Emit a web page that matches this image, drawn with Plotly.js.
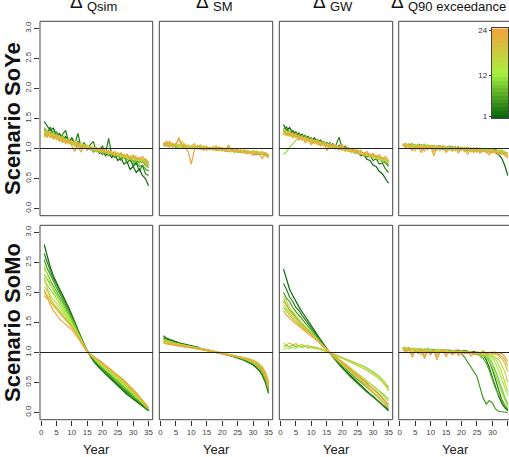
<!DOCTYPE html>
<html>
<head>
<meta charset="utf-8">
<script src="https://cdn.plot.ly/plotly-3.0.1.min.js"></script>
<style>html,body{margin:0;padding:0;background:#fff;}#chart{width:509px;height:457px;}</style>
</head>
<body>
<div id="chart"></div>
<script>
// ---------------- data ----------------
const years = [1,2,3,4,5,6,7,8,9,10,11,12,13,14,15,16,17,18,19,20,21,22,23,24,25,26,27,28,29,30,31,32,33,34,35];
const lineIds = [1,3,5,7,9,11,13,15,17,19,21,24];
const colorIndex = [1,2,3,4,5,6,7,8,9,10,11,12,13,14,15,16,17,18,19,20,21,22,23,24];
const colorbarTicks = [1,12,24];
const panelTitles = ['Qsim','SM','GW','Q90 exceedance'];
const rowLabels = ['Scenario SoYe','Scenario SoMo'];
const xTicks = [0,5,10,15,20,25,30,35];
const yTicks = [0,0.5,1,1.5,2,2.5,3];
const yTickText = ['0.0','0.5','1.0','1.5','2.0','2.5','3.0'];
const refLevel = 1;

const qsimSoYe = [
[1.45,1.38,1.30,1.34,1.22,1.25,1.15,1.20,1.10,1.18,1.05,1.12,1.02,1.08,0.98,1.04,0.95,1.00,0.92,0.98,0.88,0.93,0.85,0.90,0.80,0.84,0.74,0.78,0.65,0.70,0.60,0.66,0.55,0.50,0.38],
[1.32,1.25,1.36,1.20,1.28,1.14,1.24,1.30,1.10,1.18,1.08,1.25,1.02,1.10,1.00,1.06,1.12,0.95,0.98,1.04,0.92,1.17,0.90,0.86,0.92,0.80,0.88,0.76,0.82,0.70,0.76,0.62,0.72,0.58,0.55],
[1.22,1.30,1.18,1.26,1.15,1.20,1.10,1.18,1.08,1.12,1.04,1.10,1.00,1.06,0.98,1.02,0.94,1.00,0.95,0.90,0.96,0.88,0.92,0.85,0.88,0.82,0.86,0.78,0.80,0.74,0.78,0.70,0.72,0.66,0.62],
[1.35,1.28,1.24,1.30,1.20,1.16,1.22,1.12,1.15,1.08,1.12,1.04,1.08,1.02,1.05,0.98,1.02,0.96,0.98,0.94,0.96,0.90,0.93,0.88,0.90,0.84,0.87,0.82,0.84,0.78,0.80,0.76,0.78,0.72,0.68],
[1.26,1.20,1.28,1.18,1.22,1.14,1.18,1.10,1.14,1.06,1.10,1.02,1.06,1.00,1.03,0.98,1.00,0.95,0.97,0.92,0.95,0.90,0.92,0.88,0.90,0.85,0.87,0.83,0.85,0.80,0.82,0.78,0.80,0.75,0.72],
[1.30,1.24,1.20,1.26,1.16,1.20,1.12,1.16,1.08,1.12,1.05,1.09,1.02,1.06,0.99,1.03,0.97,1.00,0.94,0.98,0.92,0.95,0.90,0.93,0.87,0.90,0.85,0.88,0.82,0.86,0.80,0.83,0.78,0.80,0.75],
[1.18,1.25,1.22,1.16,1.20,1.12,1.17,1.10,1.14,1.07,1.10,1.04,1.07,1.01,1.04,0.99,1.01,0.96,0.99,0.94,0.96,0.92,0.94,0.89,0.91,0.87,0.89,0.84,0.86,0.82,0.84,0.79,0.82,0.77,0.74],
[1.28,1.22,1.26,1.19,1.23,1.15,1.19,1.12,1.15,1.09,1.12,1.05,1.09,1.03,1.06,1.00,1.03,0.98,1.00,0.95,0.98,0.93,0.95,0.90,0.93,0.88,0.90,0.85,0.88,0.83,0.85,0.80,0.83,0.78,0.76],
[1.24,1.30,1.20,1.24,1.17,1.21,1.13,1.16,1.10,1.13,1.06,1.10,1.03,1.07,1.00,1.04,0.98,1.01,0.95,0.99,0.93,0.96,0.91,0.94,0.88,0.92,0.86,0.89,0.84,0.87,0.82,0.85,0.80,0.82,0.78],
[1.20,1.26,1.18,1.22,1.15,1.19,1.11,1.15,1.08,1.12,1.05,1.08,1.02,1.05,0.99,1.02,0.96,1.00,0.94,0.97,0.92,0.95,0.90,0.92,0.88,0.90,0.86,0.88,0.83,0.86,0.81,0.84,0.79,0.82,0.76],
[1.32,1.22,1.27,1.18,1.24,1.14,1.20,1.10,1.16,1.06,1.12,1.03,0.94,1.05,1.00,1.03,0.97,1.01,0.95,0.98,0.93,0.96,0.90,0.94,0.88,0.91,0.86,0.89,0.83,0.87,0.82,0.85,0.79,0.83,0.74],
[1.25,1.19,1.28,1.16,1.22,1.12,1.18,1.08,1.14,1.05,0.95,1.10,1.02,1.06,0.98,1.04,0.96,1.02,0.94,1.00,0.92,0.97,0.90,0.95,0.87,0.93,0.85,0.91,0.83,0.89,0.86,0.81,0.87,0.79,0.70]
];

const smSoYe = [
[1.08,1.05,1.07,1.04,1.06,1.03,1.05,1.02,1.04,1.03,1.01,1.03,1.00,1.02,1.01,0.99,1.01,0.98,1.00,0.97,0.99,0.96,0.98,0.97,0.95,0.97,0.94,0.96,0.93,0.95,0.90,0.93,0.91,0.89,0.86],
[1.04,1.07,1.03,1.06,1.02,1.05,1.03,1.01,1.04,1.00,1.03,1.01,0.99,1.02,1.00,0.98,1.00,0.97,0.99,0.98,0.96,0.98,0.95,0.97,0.96,0.94,0.96,0.93,0.95,0.92,0.94,0.91,0.93,0.90,0.88],
[1.06,1.04,1.08,1.03,1.05,1.02,1.06,1.03,1.01,1.04,1.02,1.00,1.03,1.01,0.99,1.01,0.98,1.00,0.97,0.99,0.97,0.95,0.98,0.96,0.94,0.96,0.93,0.95,0.92,0.94,0.92,0.90,0.93,0.91,0.89],
[1.05,1.08,1.04,1.06,1.03,1.05,1.02,1.04,1.03,1.01,1.03,1.00,1.02,1.01,0.99,1.01,0.98,1.00,0.99,0.97,0.99,0.96,0.98,0.97,0.95,0.97,0.94,0.96,0.95,0.93,0.95,0.92,0.94,0.91,0.90],
[1.07,1.04,1.06,1.05,1.03,1.06,1.02,1.04,1.01,1.03,1.02,1.00,1.02,0.99,1.01,1.00,0.98,1.00,0.97,0.99,0.98,0.96,0.98,0.95,0.97,0.96,0.94,0.96,0.93,0.95,0.92,0.94,0.91,0.93,0.88],
[1.09,1.06,1.04,1.07,1.05,1.03,1.05,1.02,1.04,1.01,1.03,1.01,0.99,1.02,1.00,1.01,0.98,1.00,0.98,0.96,0.99,0.97,0.95,0.98,0.96,0.94,0.96,0.93,0.95,0.94,0.91,0.94,0.92,0.90,0.87],
[1.04,1.06,1.09,1.03,1.06,1.04,1.02,1.05,1.02,1.04,1.00,1.03,1.01,0.99,1.02,0.99,1.01,0.98,1.00,0.97,0.99,0.97,0.95,0.98,0.95,0.97,0.93,0.96,0.94,0.92,0.95,0.91,0.93,0.92,0.89],
[1.06,1.09,1.05,1.03,1.07,1.04,1.06,1.01,1.04,1.02,1.05,1.00,1.03,1.00,0.98,1.02,1.00,0.97,1.01,0.98,0.96,0.99,0.97,0.95,0.98,0.94,0.97,0.95,0.92,0.96,0.93,0.91,0.94,0.90,0.88],
[1.08,1.05,1.10,1.04,1.07,1.02,1.05,1.08,1.01,1.04,1.00,1.03,1.06,0.99,1.02,1.00,0.97,1.03,0.99,0.96,1.01,0.98,0.95,0.99,0.97,0.94,0.98,0.95,0.93,0.97,0.92,0.95,0.90,0.93,0.86],
[1.05,1.10,1.06,1.02,1.08,1.05,1.12,1.03,1.06,1.00,1.04,1.02,0.98,1.05,1.01,0.98,1.03,0.99,0.97,1.02,0.98,1.04,0.96,0.99,0.95,0.98,0.93,0.97,0.94,0.91,0.96,0.92,0.94,0.89,0.84],
[1.07,1.12,1.03,1.09,1.05,1.19,1.02,1.06,1.00,1.04,1.08,0.99,1.03,1.01,0.97,1.02,0.99,1.05,0.96,1.00,0.97,0.95,0.99,0.93,0.97,0.95,0.92,0.96,0.91,0.94,0.92,0.89,0.95,0.88,0.87],
[1.10,1.05,1.12,1.04,1.08,1.15,1.06,1.02,0.95,0.74,0.98,1.05,1.02,0.97,1.04,0.99,1.02,0.96,1.03,0.98,0.95,1.06,0.97,0.94,0.99,0.93,0.96,0.91,0.95,0.88,0.93,0.90,0.83,0.94,0.86]
];

const gwSoYe = [
[1.40,1.30,1.35,1.25,1.28,1.20,1.24,1.16,1.20,1.12,1.18,1.10,1.14,1.06,1.10,1.02,1.08,1.00,1.05,0.98,1.02,0.95,0.98,0.92,0.95,0.88,0.90,0.82,0.80,0.72,0.70,0.62,0.58,0.50,0.42],
[1.32,1.36,1.24,1.30,1.22,1.26,1.16,1.22,1.14,1.18,1.10,1.15,1.08,1.12,1.04,1.10,1.02,1.06,1.19,1.00,1.04,0.96,1.00,0.94,0.97,0.90,0.93,0.86,0.88,0.80,0.83,0.74,0.76,0.66,0.60],
[1.25,1.30,1.22,1.27,1.19,1.24,1.15,1.20,1.13,1.16,1.10,1.13,1.07,1.10,1.04,1.07,1.01,1.05,0.99,1.02,0.97,1.00,0.95,0.97,0.92,0.94,0.89,0.91,0.86,0.88,0.82,0.84,0.78,0.76,0.70],
[1.30,1.26,1.28,1.22,1.25,1.18,1.21,1.15,1.18,1.12,1.15,1.09,1.12,1.06,1.09,1.03,1.06,1.01,1.04,0.99,1.01,0.96,0.99,0.94,0.96,0.91,0.93,0.88,0.90,0.85,0.86,0.81,0.82,0.77,0.73],
[1.22,1.28,1.24,1.20,1.23,1.17,1.20,1.14,1.17,1.11,1.14,1.08,1.11,1.06,1.08,1.03,1.05,1.00,1.03,0.98,1.00,0.96,0.98,0.93,0.95,0.91,0.92,0.88,0.89,0.85,0.86,0.82,0.82,0.78,0.74],
[0.90,0.95,1.02,1.08,1.14,1.18,1.16,1.19,1.13,1.16,1.11,1.14,1.08,1.11,1.05,1.08,1.03,1.05,1.00,1.03,0.98,1.00,0.96,0.98,0.94,0.95,0.91,0.92,0.88,0.89,0.85,0.86,0.82,0.80,0.76],
[1.28,1.22,1.26,1.20,1.23,1.16,1.20,1.13,1.16,1.10,1.13,1.07,1.10,1.05,1.07,1.02,1.05,1.00,1.02,0.98,1.00,0.95,0.97,0.93,0.95,0.90,0.92,0.88,0.89,0.85,0.86,0.82,0.83,0.79,0.76],
[1.24,1.29,1.21,1.25,1.18,1.22,1.14,1.18,1.12,1.15,1.09,1.12,1.06,1.09,1.03,1.06,1.01,1.04,0.99,1.01,0.97,0.99,0.94,0.96,0.92,0.93,0.89,0.90,0.86,0.87,0.83,0.84,0.80,0.81,0.77],
[1.34,1.25,1.29,1.21,1.24,1.17,1.21,1.14,1.17,1.11,1.14,1.08,1.11,1.05,1.08,1.02,1.06,1.00,1.03,0.98,1.01,0.96,0.98,0.94,0.96,0.91,0.93,0.88,0.91,0.86,0.88,0.84,0.85,0.81,0.78],
[1.26,1.21,1.27,1.19,1.23,1.15,1.19,1.12,1.16,1.09,1.13,1.06,1.10,1.04,1.07,1.01,1.04,0.99,1.02,0.97,1.00,0.95,0.97,0.93,0.95,0.90,0.93,0.88,0.90,0.86,0.88,0.83,0.85,0.80,0.75],
[1.29,1.24,1.20,1.26,1.18,1.22,1.14,1.19,1.11,1.16,1.08,1.13,1.05,1.10,1.03,1.07,1.00,1.05,0.97,1.03,0.95,1.00,0.93,0.98,0.91,0.95,0.89,0.92,0.87,0.90,0.85,0.87,0.82,0.84,0.79],
[1.31,1.23,1.27,1.18,1.25,1.14,1.21,1.10,1.17,1.06,1.14,1.10,1.04,1.12,0.96,1.08,1.02,1.05,0.99,1.07,0.97,1.02,0.95,0.99,0.92,0.97,0.90,0.95,0.88,0.92,0.86,0.90,0.83,0.87,0.80]
];

const q90SoYe = [
[1.05,1.08,1.03,1.06,1.02,1.07,1.04,1.01,1.05,1.03,1.00,1.04,1.02,0.98,1.03,1.01,0.99,1.02,0.97,1.01,0.99,0.96,1.00,0.98,0.95,0.99,0.97,0.94,0.98,0.95,0.92,0.90,0.84,0.72,0.55],
[1.07,1.04,1.06,1.02,1.05,1.03,1.06,1.02,1.04,1.01,1.05,1.00,1.03,1.01,0.99,1.04,1.00,0.98,1.02,1.00,0.97,1.01,0.99,0.96,1.00,0.98,0.95,0.99,0.97,0.94,0.98,0.95,0.96,0.93,0.92],
[1.04,1.07,1.05,1.08,1.03,1.05,1.02,1.06,1.03,1.04,1.01,1.03,1.05,1.00,1.02,1.01,1.03,0.99,1.01,1.00,0.98,1.02,0.97,0.99,1.01,0.96,0.98,1.00,0.95,0.97,0.99,0.94,0.96,0.92,0.90],
[1.06,1.03,1.08,1.04,1.06,1.02,1.04,1.07,1.01,1.03,1.05,1.02,1.00,1.04,1.01,0.98,1.02,1.00,1.03,0.98,1.00,0.97,1.01,0.99,0.96,1.00,0.98,0.95,0.99,0.96,0.94,0.97,0.95,0.93,0.88],
[1.08,1.05,1.03,1.07,1.04,1.06,1.01,1.05,1.03,1.00,1.04,1.02,1.03,0.99,1.02,1.00,0.97,1.01,0.99,1.02,0.96,1.00,0.98,1.01,0.97,0.95,0.99,0.97,0.94,0.98,0.96,0.93,0.97,0.94,0.91],
[1.05,1.06,1.04,1.05,1.07,1.03,1.05,1.02,1.06,1.04,1.01,1.03,1.00,1.02,1.04,0.99,1.01,0.98,1.00,0.97,1.01,0.99,0.96,1.00,0.98,0.97,0.95,0.99,0.96,0.94,0.97,0.95,0.92,0.95,0.90],
[1.07,1.04,1.07,1.02,1.05,1.04,1.00,1.06,1.02,1.05,1.03,0.98,1.04,1.01,1.00,1.03,0.97,1.02,0.99,1.00,0.96,1.02,0.98,0.95,1.00,0.97,0.99,0.94,0.98,0.96,0.93,0.97,0.94,0.91,0.89],
[1.04,1.08,1.02,1.06,1.03,0.99,1.05,1.03,1.00,1.04,0.97,1.03,1.01,1.05,0.98,1.02,1.00,0.96,1.01,0.99,1.03,0.97,1.00,0.98,0.94,0.99,0.97,1.00,0.95,0.98,0.96,0.92,0.96,0.93,0.90],
[1.06,1.02,1.07,1.03,0.96,1.05,1.02,1.06,0.98,1.03,1.01,1.04,0.96,1.02,1.00,1.03,0.95,1.01,0.98,1.02,0.96,1.00,0.97,1.01,0.95,0.98,1.00,0.94,0.97,0.99,0.93,0.96,0.94,0.90,0.88],
[1.05,1.07,1.01,1.05,1.03,1.07,0.97,1.04,1.01,1.05,0.95,1.02,1.04,0.99,1.03,0.97,1.01,1.04,0.96,1.00,0.98,1.02,0.94,0.99,0.97,1.01,0.95,0.98,0.93,0.97,0.95,0.91,0.95,0.92,0.87],
[1.08,1.03,1.06,0.98,1.04,1.01,1.06,0.95,1.03,1.00,1.05,0.97,1.02,1.04,0.93,1.01,0.99,1.03,0.97,1.00,0.95,1.02,0.98,0.93,1.00,0.97,0.99,0.94,0.97,0.92,0.96,0.94,0.90,0.93,0.86],
[1.06,1.01,1.07,0.96,1.04,1.02,0.93,1.05,1.00,1.03,0.88,1.02,0.99,1.04,0.95,1.01,0.97,1.03,0.92,1.00,0.98,0.90,1.01,0.96,0.99,0.92,0.98,0.95,0.89,0.97,0.94,0.91,0.95,0.88,0.84]
];

const qsimSoMo = [
[2.80,2.60,2.42,2.28,2.16,2.06,1.96,1.86,1.75,1.63,1.50,1.38,1.25,1.13,1.02,0.93,0.86,0.80,0.74,0.69,0.64,0.59,0.54,0.49,0.44,0.39,0.34,0.30,0.26,0.22,0.18,0.14,0.10,0.06,0.03],
[2.65,2.50,2.36,2.24,2.13,2.03,1.94,1.84,1.73,1.61,1.49,1.37,1.25,1.14,1.03,0.95,0.88,0.82,0.76,0.71,0.66,0.61,0.56,0.51,0.46,0.41,0.37,0.33,0.28,0.24,0.20,0.16,0.12,0.08,0.04],
[2.55,2.40,2.30,2.18,2.08,1.99,1.90,1.80,1.70,1.59,1.47,1.36,1.24,1.13,1.03,0.96,0.89,0.83,0.78,0.73,0.68,0.63,0.58,0.53,0.48,0.44,0.39,0.35,0.30,0.26,0.22,0.18,0.14,0.10,0.05],
[2.40,2.32,2.20,2.12,2.02,1.93,1.85,1.76,1.66,1.56,1.45,1.34,1.23,1.12,1.02,0.96,0.90,0.84,0.79,0.74,0.69,0.65,0.60,0.55,0.51,0.46,0.42,0.37,0.33,0.28,0.24,0.19,0.15,0.10,0.05],
[2.30,2.22,2.12,2.04,1.96,1.88,1.80,1.72,1.63,1.54,1.44,1.33,1.22,1.12,1.02,0.96,0.90,0.85,0.80,0.75,0.71,0.66,0.62,0.57,0.53,0.48,0.44,0.39,0.35,0.30,0.25,0.20,0.16,0.11,0.06],
[2.20,2.12,2.05,1.98,1.90,1.83,1.76,1.68,1.60,1.51,1.42,1.32,1.22,1.11,1.01,0.96,0.91,0.86,0.81,0.76,0.72,0.68,0.63,0.59,0.54,0.50,0.45,0.40,0.36,0.31,0.26,0.21,0.16,0.11,0.06],
[2.45,2.30,2.15,2.02,1.90,1.80,1.72,1.64,1.56,1.48,1.40,1.30,1.21,1.11,1.01,0.96,0.91,0.86,0.82,0.77,0.73,0.69,0.64,0.60,0.56,0.51,0.47,0.42,0.37,0.32,0.27,0.22,0.17,0.12,0.07],
[2.10,2.02,1.95,1.88,1.82,1.75,1.69,1.62,1.55,1.47,1.39,1.30,1.20,1.10,1.01,0.96,0.92,0.87,0.83,0.79,0.74,0.70,0.66,0.62,0.57,0.53,0.48,0.43,0.38,0.33,0.28,0.23,0.18,0.13,0.07],
[2.00,1.95,1.88,1.82,1.76,1.70,1.64,1.58,1.52,1.45,1.37,1.29,1.20,1.10,1.01,0.97,0.92,0.88,0.84,0.80,0.76,0.72,0.68,0.63,0.59,0.54,0.50,0.45,0.40,0.35,0.29,0.24,0.18,0.13,0.07],
[2.25,2.05,1.90,1.80,1.72,1.66,1.60,1.55,1.50,1.43,1.36,1.28,1.19,1.10,1.01,0.97,0.93,0.89,0.85,0.81,0.77,0.73,0.69,0.65,0.60,0.56,0.51,0.46,0.41,0.36,0.30,0.25,0.19,0.13,0.07],
[1.95,1.90,1.84,1.78,1.72,1.66,1.60,1.55,1.49,1.43,1.36,1.28,1.19,1.10,1.01,0.98,0.94,0.90,0.86,0.82,0.78,0.74,0.70,0.66,0.62,0.57,0.52,0.47,0.42,0.37,0.31,0.25,0.19,0.13,0.08],
[2.05,1.92,1.80,1.70,1.62,1.56,1.51,1.47,1.43,1.38,1.32,1.25,1.17,1.09,1.01,0.97,0.94,0.90,0.87,0.83,0.79,0.75,0.71,0.67,0.63,0.58,0.54,0.49,0.44,0.38,0.33,0.27,0.21,0.14,0.08]
];

const smSoMo = [
[1.25,1.22,1.21,1.19,1.18,1.16,1.15,1.14,1.12,1.11,1.10,1.09,1.07,1.06,1.05,1.04,1.03,1.01,1.00,0.99,0.97,0.96,0.95,0.93,0.92,0.90,0.88,0.86,0.83,0.80,0.76,0.70,0.62,0.50,0.32],
[1.28,1.24,1.22,1.20,1.17,1.16,1.14,1.13,1.11,1.10,1.09,1.08,1.06,1.05,1.04,1.03,1.02,1.00,0.99,0.98,0.96,0.95,0.94,0.92,0.91,0.89,0.87,0.85,0.82,0.79,0.75,0.70,0.63,0.52,0.36],
[1.22,1.20,1.19,1.17,1.16,1.15,1.13,1.12,1.11,1.10,1.09,1.07,1.06,1.05,1.04,1.03,1.02,1.01,1.00,0.99,0.98,0.97,0.95,0.94,0.93,0.91,0.90,0.88,0.86,0.83,0.80,0.75,0.68,0.57,0.40],
[1.20,1.19,1.17,1.16,1.15,1.14,1.12,1.11,1.10,1.09,1.08,1.07,1.06,1.05,1.04,1.03,1.02,1.01,1.00,0.99,0.98,0.97,0.96,0.95,0.94,0.92,0.91,0.89,0.87,0.85,0.82,0.78,0.72,0.62,0.45],
[1.23,1.21,1.18,1.17,1.15,1.13,1.12,1.11,1.10,1.08,1.07,1.06,1.05,1.04,1.03,1.02,1.01,1.00,0.99,0.98,0.97,0.96,0.95,0.94,0.92,0.91,0.89,0.87,0.85,0.82,0.79,0.74,0.67,0.56,0.38],
[1.18,1.17,1.16,1.15,1.14,1.13,1.12,1.11,1.10,1.09,1.08,1.07,1.06,1.05,1.04,1.03,1.02,1.01,1.00,0.99,0.98,0.97,0.96,0.95,0.94,0.93,0.91,0.90,0.88,0.86,0.83,0.79,0.73,0.64,0.48],
[1.21,1.19,1.18,1.16,1.15,1.14,1.13,1.11,1.10,1.09,1.08,1.07,1.06,1.05,1.04,1.03,1.02,1.01,1.00,0.99,0.98,0.97,0.96,0.94,0.93,0.92,0.90,0.88,0.86,0.84,0.81,0.77,0.71,0.61,0.44],
[1.17,1.16,1.15,1.14,1.13,1.12,1.11,1.10,1.09,1.08,1.07,1.06,1.05,1.04,1.03,1.02,1.02,1.01,1.00,0.99,0.98,0.97,0.96,0.95,0.94,0.93,0.92,0.90,0.89,0.87,0.84,0.80,0.75,0.66,0.50],
[1.19,1.18,1.16,1.15,1.14,1.13,1.12,1.11,1.10,1.09,1.08,1.07,1.06,1.05,1.04,1.03,1.02,1.01,1.00,0.99,0.98,0.97,0.96,0.95,0.94,0.92,0.91,0.89,0.87,0.85,0.82,0.78,0.72,0.63,0.46],
[1.16,1.15,1.14,1.13,1.13,1.12,1.11,1.10,1.09,1.08,1.07,1.06,1.05,1.05,1.04,1.03,1.02,1.01,1.00,0.99,0.98,0.97,0.96,0.95,0.94,0.93,0.92,0.91,0.89,0.87,0.85,0.81,0.76,0.68,0.53],
[1.20,1.18,1.17,1.15,1.14,1.13,1.12,1.11,1.10,1.09,1.08,1.07,1.06,1.05,1.04,1.03,1.02,1.01,1.00,0.99,0.98,0.97,0.96,0.95,0.93,0.92,0.90,0.89,0.87,0.84,0.81,0.77,0.71,0.60,0.42],
[1.15,1.14,1.13,1.13,1.12,1.11,1.10,1.09,1.09,1.08,1.07,1.06,1.05,1.04,1.04,1.03,1.02,1.01,1.00,0.99,0.98,0.97,0.96,0.95,0.94,0.93,0.92,0.90,0.88,0.86,0.83,0.79,0.73,0.64,0.47]
];

const gwSoMo = [
[2.39,2.20,2.05,1.95,1.85,1.76,1.68,1.60,1.52,1.45,1.37,1.30,1.22,1.14,1.06,0.99,0.93,0.88,0.82,0.76,0.70,0.65,0.60,0.55,0.50,0.45,0.40,0.35,0.31,0.27,0.22,0.18,0.13,0.08,0.03],
[2.15,2.05,1.92,1.85,1.75,1.70,1.62,1.55,1.48,1.42,1.35,1.28,1.20,1.12,1.05,0.98,0.92,0.86,0.80,0.74,0.68,0.63,0.58,0.53,0.48,0.43,0.38,0.34,0.30,0.26,0.22,0.17,0.13,0.09,0.05],
[2.00,1.90,1.85,1.75,1.68,1.62,1.55,1.50,1.44,1.38,1.31,1.25,1.18,1.11,1.04,0.98,0.93,0.88,0.83,0.78,0.73,0.68,0.64,0.59,0.55,0.50,0.46,0.42,0.37,0.33,0.28,0.24,0.19,0.14,0.08],
[1.85,1.80,1.70,1.66,1.58,1.54,1.48,1.43,1.38,1.33,1.28,1.22,1.16,1.10,1.04,0.99,0.94,0.90,0.86,0.82,0.78,0.74,0.70,0.66,0.62,0.58,0.53,0.49,0.44,0.40,0.35,0.30,0.25,0.19,0.13],
[1.10,1.12,1.09,1.13,1.10,1.12,1.09,1.11,1.08,1.10,1.07,1.08,1.05,1.04,1.02,1.00,0.98,0.96,0.94,0.92,0.90,0.88,0.86,0.84,0.82,0.80,0.77,0.74,0.71,0.68,0.64,0.60,0.55,0.49,0.42],
[1.75,1.68,1.62,1.56,1.51,1.46,1.42,1.38,1.34,1.30,1.25,1.20,1.15,1.10,1.05,1.01,0.97,0.93,0.89,0.85,0.81,0.77,0.73,0.69,0.65,0.61,0.57,0.53,0.49,0.45,0.41,0.37,0.33,0.28,0.22],
[1.05,1.08,1.06,1.09,1.07,1.10,1.08,1.10,1.07,1.09,1.06,1.07,1.05,1.03,1.01,0.99,0.97,0.95,0.93,0.91,0.89,0.87,0.85,0.83,0.81,0.79,0.76,0.73,0.70,0.67,0.63,0.59,0.54,0.48,0.38],
[1.95,1.85,1.75,1.68,1.61,1.55,1.49,1.44,1.39,1.34,1.28,1.22,1.16,1.10,1.04,0.99,0.94,0.89,0.84,0.80,0.75,0.71,0.66,0.62,0.57,0.53,0.48,0.44,0.39,0.34,0.29,0.24,0.19,0.14,0.08],
[1.80,1.72,1.65,1.58,1.52,1.47,1.42,1.38,1.34,1.29,1.24,1.19,1.14,1.09,1.04,1.00,0.96,0.92,0.88,0.84,0.80,0.77,0.73,0.69,0.65,0.61,0.57,0.53,0.48,0.44,0.40,0.35,0.30,0.25,0.19],
[1.15,1.13,1.16,1.12,1.15,1.11,1.14,1.10,1.12,1.08,1.10,1.06,1.07,1.04,1.02,1.00,0.98,0.96,0.93,0.91,0.88,0.86,0.83,0.81,0.78,0.76,0.73,0.70,0.67,0.64,0.60,0.56,0.51,0.45,0.36],
[1.90,1.78,1.70,1.62,1.56,1.50,1.45,1.40,1.36,1.31,1.26,1.21,1.15,1.09,1.04,0.99,0.95,0.90,0.86,0.81,0.77,0.72,0.68,0.63,0.59,0.54,0.50,0.45,0.40,0.35,0.30,0.25,0.20,0.14,0.08],
[1.70,1.62,1.58,1.52,1.48,1.44,1.40,1.36,1.32,1.28,1.24,1.19,1.14,1.09,1.04,1.00,0.96,0.92,0.87,0.83,0.79,0.75,0.70,0.66,0.62,0.57,0.53,0.48,0.44,0.39,0.34,0.29,0.24,0.18,0.12]
];

const q90SoMo = [
[1.06,1.08,1.05,1.07,1.04,1.06,1.05,1.03,1.06,1.04,1.05,1.02,1.04,1.05,1.03,1.04,1.02,1.03,1.04,1.01,1.03,1.02,1.00,1.02,0.99,0.98,0.95,0.88,0.75,0.58,0.42,0.28,0.16,0.08,0.03],
[1.08,1.05,1.07,1.04,1.06,1.03,1.05,1.04,1.02,1.05,1.03,1.04,1.01,1.03,1.04,1.02,1.03,1.00,1.02,1.03,1.01,1.02,1.00,0.99,1.00,0.97,0.96,0.93,0.85,0.72,0.55,0.38,0.22,0.12,0.05],
[1.07,1.05,1.08,1.04,1.06,1.05,1.03,1.06,1.04,1.02,1.05,1.03,1.04,1.02,1.03,1.01,1.02,1.00,1.01,0.98,0.92,0.84,0.76,0.68,0.60,0.42,0.24,0.14,0.20,0.16,0.06,0.02,0.01,0.01,0.00],
[1.05,1.07,1.04,1.06,1.05,1.03,1.06,1.04,1.02,1.05,1.03,1.01,1.04,1.02,1.03,1.01,1.02,1.03,1.00,1.02,1.01,0.99,1.00,0.98,0.97,0.95,0.90,0.82,0.70,0.55,0.40,0.30,0.20,0.12,0.06],
[1.09,1.06,1.04,1.07,1.05,1.03,1.05,1.02,1.04,1.03,1.01,1.04,1.02,1.03,1.00,1.02,1.01,0.99,1.02,1.00,1.01,0.99,1.00,0.98,0.99,0.97,0.96,0.94,0.90,0.82,0.70,0.55,0.40,0.26,0.14],
[1.06,1.04,1.07,1.05,1.03,1.06,1.04,1.02,1.05,1.03,1.04,1.01,1.03,1.02,1.04,1.00,1.02,1.01,0.99,1.01,1.00,1.02,0.99,1.00,0.98,0.97,0.95,0.92,0.86,0.76,0.62,0.48,0.35,0.22,0.10],
[1.07,1.09,1.05,1.06,1.04,1.07,1.03,1.05,1.02,1.04,1.03,1.05,1.01,1.03,1.02,1.00,1.03,1.01,1.02,0.99,1.01,1.00,1.02,0.99,1.00,0.98,0.97,0.96,0.94,0.90,0.82,0.70,0.56,0.42,0.28],
[1.05,1.08,1.06,1.03,1.07,1.04,1.06,1.02,1.05,1.03,1.01,1.04,1.02,1.05,1.01,1.03,1.00,1.02,1.01,1.03,0.99,1.01,1.00,0.98,1.01,0.99,0.98,0.97,0.95,0.93,0.88,0.80,0.68,0.52,0.35],
[1.08,1.04,1.06,1.05,1.02,1.06,1.03,1.05,1.01,1.04,1.02,1.03,1.05,1.00,1.03,1.02,1.01,1.03,0.99,1.02,1.00,1.01,0.99,1.00,0.98,1.00,0.99,0.98,0.97,0.95,0.92,0.88,0.80,0.68,0.50],
[1.06,1.03,1.08,0.98,1.05,1.02,0.96,1.04,1.01,0.98,1.04,0.97,1.02,1.05,0.99,1.01,0.97,1.03,1.00,0.98,1.02,0.99,1.01,0.97,1.00,0.98,1.01,0.99,1.00,0.97,0.98,0.95,0.90,0.82,0.68],
[1.07,1.02,1.06,0.97,1.04,1.00,1.05,0.95,1.02,0.99,1.03,0.93,1.01,1.04,0.98,1.02,0.96,1.00,1.03,0.97,1.01,0.99,1.02,0.96,1.00,0.98,1.03,0.97,0.99,1.01,0.96,0.98,0.94,0.88,0.78],
[1.05,1.00,1.07,0.92,1.03,0.98,1.05,0.90,1.02,0.96,1.04,0.88,1.00,1.03,0.93,1.01,0.97,1.04,0.95,1.00,0.98,1.02,0.94,0.99,1.01,0.96,1.02,0.97,1.00,0.98,1.01,0.96,0.99,0.93,0.85]
];

const panels = [qsimSoYe, smSoYe, gwSoYe, q90SoYe, qsimSoMo, smSoMo, gwSoMo, q90SoMo];

// ---------------- styling / geometry ----------------
const W = 509, H = 457;
const FONT = '"Liberation Sans", Arial, Helvetica, sans-serif';
const colPx = [[40,152.7],[159.3,272.7],[279.3,392.7],[398.7,512]];
const rowPx = [[21.3,215.7],[225.3,419.7]];
const xRange = [-0.36, 36.36];
const yRange = [-0.12, 3.12];
const titleSplitPx = [85, 211, 328, 406];

function hex2rgb(h){return [parseInt(h.slice(1,3),16),parseInt(h.slice(3,5),16),parseInt(h.slice(5,7),16)];}
const stops = ['#0a660a','#a8f040','#eea43c'].map(hex2rgb);
function paletteColor(i){
  const t=(i-1)/23; let a,b,u;
  if(t<=0.5){a=stops[0];b=stops[1];u=t/0.5;} else {a=stops[1];b=stops[2];u=(t-0.5)/0.5;}
  const c=a.map((v,k)=>Math.round(v+(b[k]-v)*u));
  return 'rgb('+c.join(',')+')';
}
const palette = colorIndex.map(paletteColor);

const traces = [];
const layout = {
  width: W, height: H, margin:{l:0,r:0,t:0,b:0},
  paper_bgcolor:'#fff', plot_bgcolor:'#fff', showlegend:false,
  font:{family:FONT, color:'#222'},
  shapes:[], annotations:[]
};

panels.forEach((panel,p)=>{
  const r = Math.floor(p/4), c = p%4, n = p+1;
  panel.forEach((vals,k)=>{
    traces.push({type:'scatter', mode:'lines', x:years, y:vals,
      xaxis:'x'+n, yaxis:'y'+n, hoverinfo:'skip',
      line:{color:palette[lineIds[k]-1], width:1.2}});
  });
  const x0 = colPx[c][0], x1 = Math.min(colPx[c][1], W);
  const pxPerUnit = (colPx[c][1]-colPx[c][0])/(xRange[1]-xRange[0]);
  const xr = [xRange[0], xRange[0] + (x1-x0)/pxPerUnit];
  layout['xaxis'+n] = {
    domain:[x0/W, x1/W], range:xr, anchor:'y'+n, fixedrange:true,
    showgrid:false, zeroline:false, showline:false,
    tickmode:'array', tickvals:xTicks,
    ticks: r===1?'outside':'', showticklabels: r===1,
    ticklen:5, tickwidth:1, tickcolor:'#333',
    tickfont:{size:8, color:'#444', family:FONT}
  };
  layout['yaxis'+n] = {
    domain:[1-rowPx[r][1]/H, 1-rowPx[r][0]/H], range:yRange, anchor:'x'+n, fixedrange:true,
    showgrid:false, zeroline:false, showline:false,
    tickmode:'array', tickvals:yTicks, ticktext:yTickText, tickangle:-90,
    ticks: c===0?'outside':'', showticklabels: c===0,
    ticklen:5, tickwidth:1, tickcolor:'#333',
    tickfont:{size:8, color:'#444', family:FONT}
  };
  layout.shapes.push({type:'rect', xref:'paper', yref:'paper', layer:'above',
    x0:colPx[c][0]/W, x1:colPx[c][1]/W, y0:1-rowPx[r][1]/H, y1:1-rowPx[r][0]/H,
    line:{color:'#444', width:1}});
  layout.shapes.push({type:'line', xref:'x'+n+' domain', yref:'y'+n, layer:'above',
    x0:0, x1:1, y0:refLevel, y1:refLevel, line:{color:'#222', width:1}});
});

// column titles
panelTitles.forEach((t,c)=>{
  layout.annotations.push({xref:'paper', yref:'paper', x:titleSplitPx[c]/W, y:1-14.5/H,
    xanchor:'right', yanchor:'bottom', text:'Δ', showarrow:false,
    font:{size:19, color:'#111', family:FONT}});
  layout.annotations.push({xref:'paper', yref:'paper', x:titleSplitPx[c]/W, y:1-15.5/H,
    xanchor:'left', yanchor:'bottom', text:t, showarrow:false,
    font:{size:13, color:'#111', family:FONT}});
  const cx = (colPx[c][0]+colPx[c][1])/2;
  layout.annotations.push({xref:'paper', yref:'paper', x:cx/W, y:1-449.5/H,
    xanchor:'center', yanchor:'middle', text:'Year', showarrow:false,
    font:{size:13, color:'#222', family:FONT}});
});

// row labels
rowLabels.forEach((t,r)=>{
  const cy = (rowPx[r][0]+rowPx[r][1])/2;
  layout.annotations.push({xref:'paper', yref:'paper', x:12.5/W, y:1-cy/H,
    xanchor:'center', yanchor:'middle', textangle:-90, text:'<b>'+t+'</b>', showarrow:false,
    font:{size:22, color:'#111', family:FONT}});
});

// colour key
traces.push({type:'heatmap', x:[0], y:colorIndex, z:colorIndex.map(v=>[v]),
  xaxis:'x9', yaxis:'y9', zmin:1, zmax:24, showscale:false, hoverinfo:'skip',
  colorscale: palette.map((col,i)=>[i/23, col])});
layout.xaxis9 = {domain:[491.7/W, 508.3/W], range:[-0.5,0.5], anchor:'y9', fixedrange:true,
  showgrid:false, zeroline:false, showticklabels:false, ticks:'',
  showline:true, mirror:true, linecolor:'#444', linewidth:1};
layout.yaxis9 = {domain:[1-118.3/H, 1-28.3/H], range:[0.5,24.5], anchor:'x9', fixedrange:true,
  showgrid:false, zeroline:false, side:'left',
  tickmode:'array', tickvals:colorbarTicks, ticktext:colorbarTicks.map(String),
  ticks:'outside', ticklen:2, tickcolor:'#444', tickfont:{size:8, color:'#333', family:FONT},
  showline:true, mirror:true, linecolor:'#444', linewidth:1};

Plotly.newPlot('chart', traces, layout, {staticPlot:true, displayModeBar:false});
</script>
</body>
</html>
